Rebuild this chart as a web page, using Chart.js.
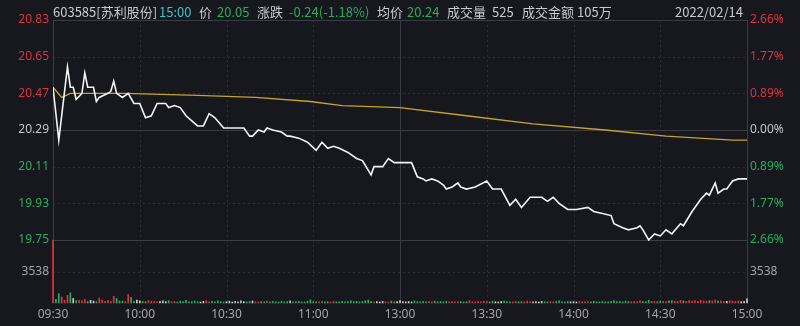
<!DOCTYPE html>
<html>
<head>
<meta charset="utf-8">
<script src="https://cdn.jsdelivr.net/npm/chart.js@4.4.1/dist/chart.umd.min.js"></script>
<style>
  html, body { margin: 0; padding: 0; background: #16181d; }
  #wrap { width: 800px; height: 326px; }
</style>
</head>
<body>
<div id="wrap"><canvas id="fenshi" width="800" height="326"></canvas></div>
<script>
// 分时数据 (minutes since 09:30, trading minutes only)
const prevClose = 20.29;
const priceTicks = [19.75, 19.93, 20.11, 20.29, 20.47, 20.65, 20.83];
const volMax = 7076;
const volTicks = [3538];
const timeTicks = [0, 30, 60, 90, 120, 150, 180, 210, 240];
const timeLabels = ['09:30', '10:00', '10:30', '11:00', '13:00', '13:30', '14:00', '14:30', '15:00'];

const priceMinutes = [0, 2, 5, 6, 7, 8, 10, 11, 12, 14, 15, 16, 19, 20, 21, 22, 24, 26, 28, 30,
  32, 34, 36, 39, 40, 42, 44, 46, 50, 52, 54, 56, 59, 61, 63, 66, 68, 69, 71, 73,
  74, 76, 79, 81, 82, 85, 88, 91, 93, 95, 97, 99, 102, 105, 107, 110, 111, 114, 116, 118,
  120, 124, 126, 128, 129, 131, 133, 135, 136, 138, 139, 140, 141, 143, 146, 150, 152, 155, 158, 160,
  162, 165, 169, 171, 173, 175, 178, 181, 185, 187, 190, 193, 194, 197, 199, 202, 203, 204, 206, 208,
  210, 212, 214, 217, 218, 221, 224, 226, 227, 229, 230, 232, 233, 235, 237, 240];
const prices = [20.50, 20.24, 20.60, 20.50, 20.50, 20.44, 20.47, 20.57, 20.50, 20.50, 20.43, 20.45, 20.47, 20.48, 20.53, 20.47, 20.45, 20.47, 20.42, 20.42,
  20.35, 20.36, 20.42, 20.42, 20.40, 20.41, 20.40, 20.36, 20.31, 20.31, 20.37, 20.35, 20.30, 20.30, 20.30, 20.30, 20.26, 20.26, 20.29, 20.28,
  20.30, 20.29, 20.28, 20.26, 20.26, 20.25, 20.23, 20.19, 20.23, 20.20, 20.21, 20.20, 20.18, 20.15, 20.14, 20.07, 20.11, 20.11, 20.15, 20.13,
  20.13, 20.13, 20.06, 20.05, 20.04, 20.05, 20.04, 20.02, 20.00, 20.01, 20.02, 20.03, 20.01, 20.00, 20.01, 20.04, 20.00, 20.00, 19.92, 19.95,
  19.91, 19.96, 19.96, 19.94, 19.96, 19.93, 19.90, 19.90, 19.91, 19.89, 19.88, 19.87, 19.83, 19.81, 19.80, 19.81, 19.82, 19.80, 19.75, 19.78,
  19.77, 19.80, 19.78, 19.83, 19.82, 19.89, 19.95, 19.98, 19.97, 20.03, 19.98, 20.00, 20.00, 20.04, 20.05, 20.05];

const avgMinutes = [0, 3, 6, 25, 50, 70, 89, 100, 120, 143, 166, 191, 212, 235, 240];
const avgPrices = [20.50, 20.45, 20.47, 20.47, 20.46, 20.45, 20.43, 20.41, 20.40, 20.36, 20.32, 20.29, 20.26, 20.24, 20.24];

const volumes = [
  7076, 420, 1050, 680, 300, 850, 1150, 520, 260, 330, 240, 410, 180, 300, 220, 150, 560, 330, 200, 280,
  170, 760, 520, 240, 210, 150, 950, 620, 190, 340, 230, 180, 150, 270, 210, 160, 120, 190, 230, 150,
  260, 140, 180, 120, 210, 160, 310, 130, 170, 220, 150, 120, 190, 260, 140, 180, 130, 240, 160, 120,
  140, 200, 110, 170, 130, 250, 150, 120, 180, 230, 140, 110, 160, 130, 210, 120, 170, 140, 110, 190,
  130, 160, 240, 120, 150, 180, 130, 110, 200, 350, 160, 140, 120, 190, 130, 150, 110, 170, 140, 120,
  180, 130, 150, 240, 160, 200, 130, 170, 260, 330, 190, 140, 150, 120, 180, 130, 110, 220, 140, 160,
  280, 150, 130, 170, 120, 240, 160, 140, 190, 130, 150, 120, 210, 140, 170, 130, 180, 120, 150, 140,
  130, 170, 120, 150, 260, 140, 120, 160, 130, 180, 150, 120, 200, 140, 130, 170, 220, 150, 130, 120,
  180, 140, 160, 120, 210, 150, 130, 170, 120, 190, 140, 130, 160, 120, 150, 230, 140, 120, 170, 130,
  150, 120, 180, 140, 130, 160, 120, 200, 150, 130, 170, 140, 120, 190, 280, 150, 170, 130, 220, 160,
  140, 180, 130, 250, 170, 150, 300, 190, 160, 140, 210, 180, 150, 230, 260, 200, 170, 300, 240, 190,
  280, 220, 260, 190, 310, 240, 200, 270, 230, 340, 210, 250, 200, 190, 260, 220, 180, 240, 150, 200,
  480
];

const RED = '#dc3340';
const GREEN = '#26ad5f';
const GRAY = '#a4a6ab';

// price band takes the upper 220px of the 283px plot, volume the lower 63px
const priceShare = 220 / 283;
const priceTop = priceTicks[priceTicks.length - 1];
const priceBottom = priceTicks[0];
const axisMin = priceTop - (priceTop - priceBottom) / priceShare;
const volAxisMax = volMax / (1 - priceShare);
// where the volume label sits on the price axes
const volTickValues = volTicks.map(v => axisMin + v / volAxisMax * (priceTop - axisMin));

function volColor(i) {
  if (i === 0) return RED;
  const k = priceMinutes.findIndex(m => m >= i);
  if (k <= 0) return '#c8c8c8';
  const d = prices[k] - prices[k - 1];
  if (d > 0.0001) return RED;
  if (d < -0.0001) return GREEN;
  return '#c8c8c8';
}

function isVolTick(v) {
  return volTickValues.some(t => Math.abs(t - v) < 1e-6);
}

function tickColor(v) {
  if (isVolTick(v)) return GRAY;
  if (Math.abs(v - prevClose) < 0.001) return '#c4c6ca';
  return v > prevClose ? RED : GREEN;
}

function volLabel(v) {
  return String(volTicks[volTickValues.findIndex(t => Math.abs(t - v) < 1e-6)]);
}

const header = {
  id: 'header',
  afterDraw(chart) {
    const c = chart.ctx;
    c.save();
    c.font = '13px "Noto Sans CJK SC", "Noto Sans", sans-serif';
    c.textBaseline = 'middle';
    const parts = [
      ['603585[苏利股份]', 53, '#c9cbcf'],
      ['15:00', 159, '#3fc0cc'],
      ['价', 199, '#c9cbcf'],
      ['20.05', 217, GREEN],
      ['涨跌', 257, '#c9cbcf'],
      ['-0.24(-1.18%)', 289, GREEN],
      ['均价', 377, '#c9cbcf'],
      ['20.24', 407, GREEN],
      ['成交量', 447, '#c9cbcf'],
      ['525', 492, '#c9cbcf'],
      ['成交金额', 522, '#c9cbcf'],
      ['105万', 577, '#c9cbcf'],
      ['2022/02/14', 675, '#c9cbcf']
    ];
    parts.forEach(p => {
      c.fillStyle = p[2];
      c.fillText(p[0], p[1], 12);
    });
    c.restore();
  }
};

const guides = {
  id: 'guides',
  beforeDatasetsDraw(chart) {
    const c = chart.ctx;
    const a = chart.chartArea;
    const y = chart.scales.y;
    const x = chart.scales.x;
    c.save();
    c.lineWidth = 1;
    c.setLineDash([2, 3]);
    c.strokeStyle = 'rgba(255,255,255,0.10)';
    priceTicks.concat(volTickValues).forEach(v => {
      if (v === prevClose || v === priceBottom || v === priceTop) return;
      const py = Math.round(y.getPixelForValue(v)) + 0.5;
      c.beginPath(); c.moveTo(a.left, py); c.lineTo(a.right, py); c.stroke();
    });
    timeTicks.forEach(t => {
      if (t === 0 || t === 240 || t === 120) return;
      const px = Math.round(x.getPixelForValue(t)) + 0.5;
      c.beginPath(); c.moveTo(px, a.top); c.lineTo(px, a.bottom); c.stroke();
    });
    c.setLineDash([]);
    c.strokeStyle = '#393c43';
    [priceTop, prevClose, priceBottom].forEach(v => {
      const py = Math.round(y.getPixelForValue(v)) + 0.5;
      c.beginPath(); c.moveTo(a.left, py); c.lineTo(a.right, py); c.stroke();
    });
    [0, 120, 240].forEach(t => {
      const px = Math.round(x.getPixelForValue(t)) + 0.5;
      c.beginPath(); c.moveTo(px, a.top); c.lineTo(px, a.bottom); c.stroke();
    });
    c.restore();
  }
};

const tickFont = { family: '"Noto Sans", sans-serif', size: 12 };

function fixTicks(values) {
  return function (scale) {
    scale.ticks = values.map(v => ({ value: v }));
  };
}

const ctx = document.getElementById('fenshi').getContext('2d');

new Chart(ctx, {
  type: 'line',
  data: {
    datasets: [
      {
        type: 'line',
        label: '价格',
        data: priceMinutes.map((m, i) => ({ x: m, y: prices[i] })),
        yAxisID: 'y',
        borderColor: '#f4f4f4',
        borderWidth: 1.6,
        pointRadius: 0,
        tension: 0,
        order: 1
      },
      {
        type: 'line',
        label: '均价',
        data: avgMinutes.map((m, i) => ({ x: m, y: avgPrices[i] })),
        yAxisID: 'y',
        borderColor: '#c7a22e',
        borderWidth: 1.3,
        pointRadius: 0,
        tension: 0,
        order: 2
      },
      {
        type: 'bar',
        label: '成交量',
        data: volumes.map((v, i) => ({ x: i, y: v })),
        yAxisID: 'yVol',
        backgroundColor: volumes.map((v, i) => volColor(i)),
        barThickness: 1,
        grouped: false,
        clip: 3,
        order: 3
      }
    ]
  },
  options: {
    responsive: false,
    animation: false,
    devicePixelRatio: 1,
    layout: { padding: { top: 20, left: 0, right: 0, bottom: 0 } },
    plugins: {
      legend: { display: false },
      tooltip: { enabled: false },
      title: { display: false }
    },
    scales: {
      x: {
        type: 'linear',
        min: 0,
        max: 240,
        offset: false, // bars would otherwise pad the time axis
        position: 'bottom',
        grid: { display: false, drawTicks: false, offset: false },
        border: { display: false },
        afterBuildTicks: fixTicks(timeTicks),
        afterFit: s => { s.height = 23; },
        ticks: {
          autoSkip: false,
          maxRotation: 0,
          padding: 4,
          color: '#a4a6ab',
          font: tickFont,
          callback: v => timeLabels[timeTicks.indexOf(v)]
        }
      },
      y: {
        type: 'linear',
        position: 'left',
        min: axisMin,
        max: priceTop,
        grid: { display: false, drawTicks: false },
        border: { display: false },
        afterBuildTicks: fixTicks(priceTicks.concat(volTickValues)),
        afterFit: s => { s.width = 53; },
        ticks: {
          autoSkip: false,
          padding: 4,
          font: tickFont,
          color: c => tickColor(c.tick.value),
          callback: v => isVolTick(v) ? volLabel(v) : v.toFixed(2)
        }
      },
      yPct: {
        type: 'linear',
        position: 'right',
        min: axisMin,
        max: priceTop,
        grid: { display: false, drawTicks: false },
        border: { display: false },
        afterBuildTicks: fixTicks(priceTicks.concat(volTickValues)),
        afterFit: s => { s.width = 53; },
        ticks: {
          autoSkip: false,
          padding: 3,
          font: tickFont,
          color: c => tickColor(c.tick.value),
          callback: v => isVolTick(v) ? volLabel(v) : (Math.abs(v - prevClose) / prevClose * 100).toFixed(2) + '%'
        }
      },
      yVol: {
        type: 'linear',
        display: false,
        min: 0,
        max: volAxisMax
      }
    }
  },
  plugins: [guides, header]
});
</script>
</body>
</html>
